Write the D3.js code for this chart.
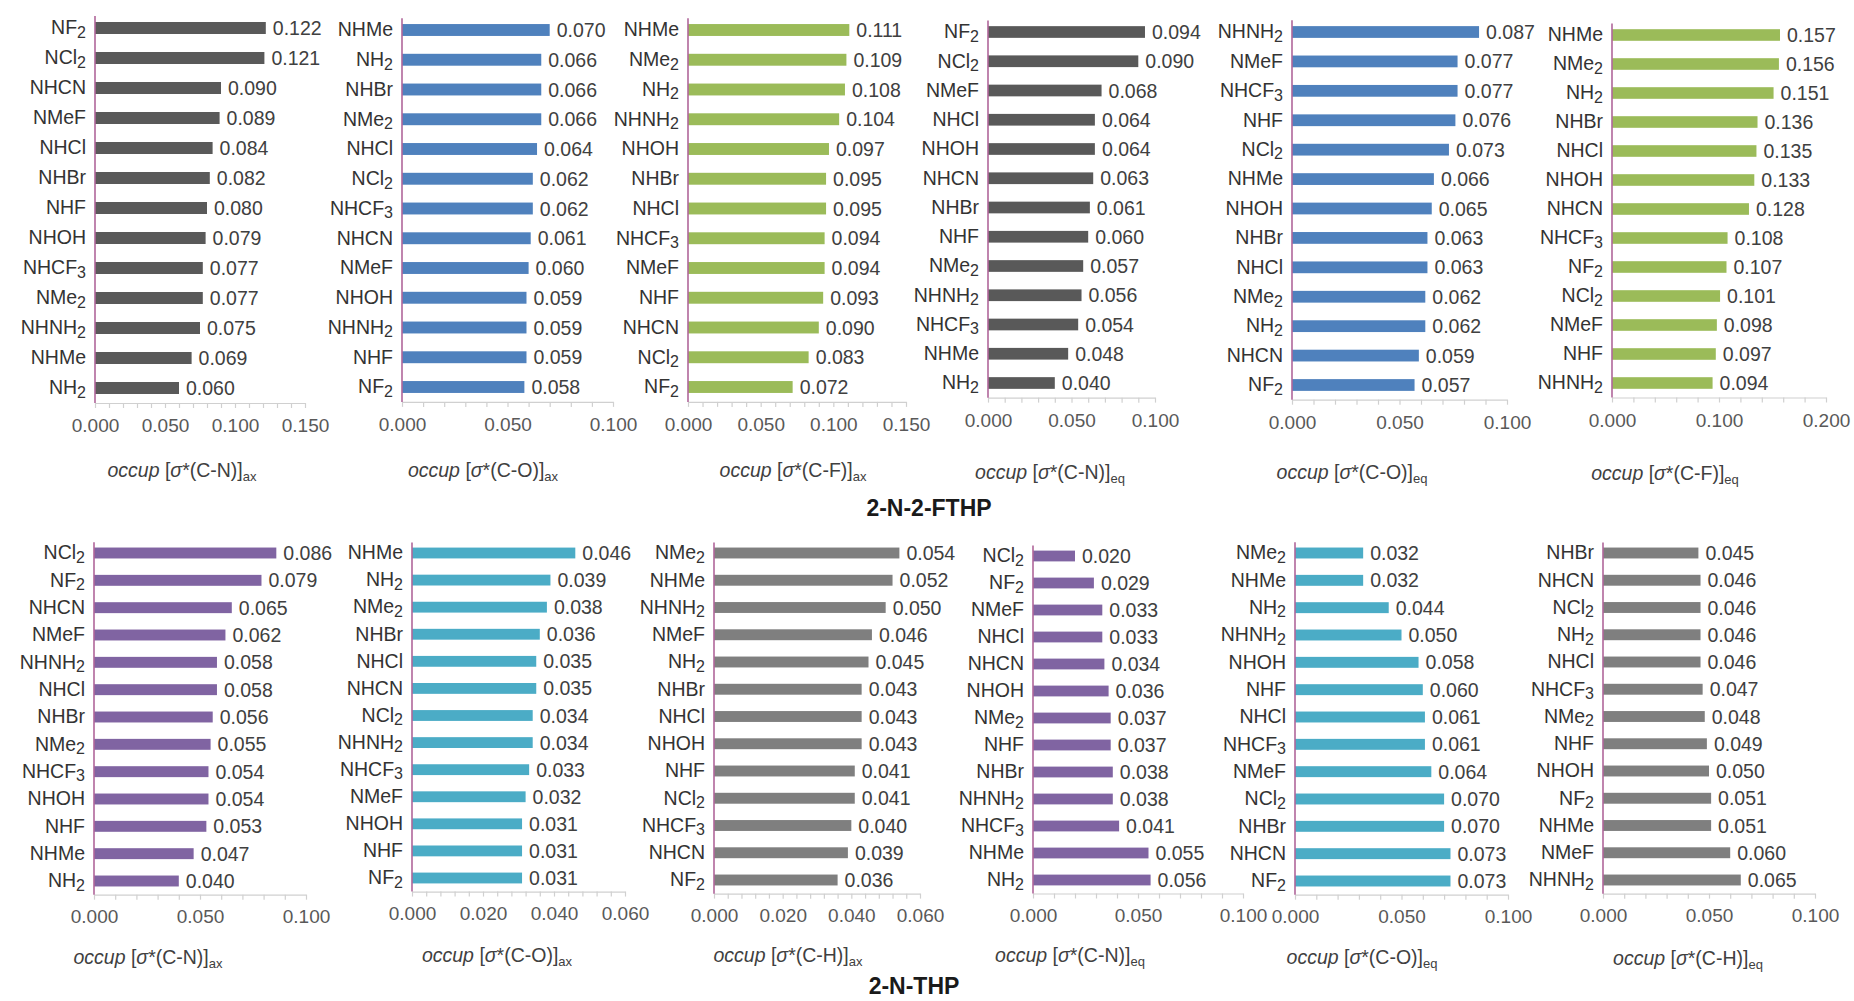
<!DOCTYPE html>
<html>
<head>
<meta charset="utf-8">
<script src="https://cdn.jsdelivr.net/npm/d3@7/dist/d3.min.js"></script>
<style>
  html, body { margin: 0; padding: 0; background: #fff; }
  svg { display: block; font-family: "Liberation Sans", Arial, sans-serif; }
</style>
</head>
<body>
<svg id="chart" width="1854" height="1001"></svg>
<script>
// ---- 2-N-2-FTHP ----
const ftAxCN_cats = ["NF2","NCl2","NHCN","NMeF","NHCl","NHBr","NHF","NHOH","NHCF3","NMe2","NHNH2","NHMe","NH2"];
const ftAxCN_vals = [0.122,0.121,0.090,0.089,0.084,0.082,0.080,0.079,0.077,0.077,0.075,0.069,0.060];

const ftAxCO_cats = ["NHMe","NH2","NHBr","NMe2","NHCl","NCl2","NHCF3","NHCN","NMeF","NHOH","NHNH2","NHF","NF2"];
const ftAxCO_vals = [0.070,0.066,0.066,0.066,0.064,0.062,0.062,0.061,0.060,0.059,0.059,0.059,0.058];

const ftAxCF_cats = ["NHMe","NMe2","NH2","NHNH2","NHOH","NHBr","NHCl","NHCF3","NMeF","NHF","NHCN","NCl2","NF2"];
const ftAxCF_vals = [0.111,0.109,0.108,0.104,0.097,0.095,0.095,0.094,0.094,0.093,0.090,0.083,0.072];

const ftEqCN_cats = ["NF2","NCl2","NMeF","NHCl","NHOH","NHCN","NHBr","NHF","NMe2","NHNH2","NHCF3","NHMe","NH2"];
const ftEqCN_vals = [0.094,0.090,0.068,0.064,0.064,0.063,0.061,0.060,0.057,0.056,0.054,0.048,0.040];

const ftEqCO_cats = ["NHNH2","NMeF","NHCF3","NHF","NCl2","NHMe","NHOH","NHBr","NHCl","NMe2","NH2","NHCN","NF2"];
const ftEqCO_vals = [0.087,0.077,0.077,0.076,0.073,0.066,0.065,0.063,0.063,0.062,0.062,0.059,0.057];

const ftEqCF_cats = ["NHMe","NMe2","NH2","NHBr","NHCl","NHOH","NHCN","NHCF3","NF2","NCl2","NMeF","NHF","NHNH2"];
const ftEqCF_vals = [0.157,0.156,0.151,0.136,0.135,0.133,0.128,0.108,0.107,0.101,0.098,0.097,0.094];

// ---- 2-N-THP ----
const thAxCN_cats = ["NCl2","NF2","NHCN","NMeF","NHNH2","NHCl","NHBr","NMe2","NHCF3","NHOH","NHF","NHMe","NH2"];
const thAxCN_vals = [0.086,0.079,0.065,0.062,0.058,0.058,0.056,0.055,0.054,0.054,0.053,0.047,0.040];

const thAxCO_cats = ["NHMe","NH2","NMe2","NHBr","NHCl","NHCN","NCl2","NHNH2","NHCF3","NMeF","NHOH","NHF","NF2"];
const thAxCO_vals = [0.046,0.039,0.038,0.036,0.035,0.035,0.034,0.034,0.033,0.032,0.031,0.031,0.031];

const thAxCH_cats = ["NMe2","NHMe","NHNH2","NMeF","NH2","NHBr","NHCl","NHOH","NHF","NCl2","NHCF3","NHCN","NF2"];
const thAxCH_vals = [0.054,0.052,0.050,0.046,0.045,0.043,0.043,0.043,0.041,0.041,0.040,0.039,0.036];

const thEqCN_cats = ["NCl2","NF2","NMeF","NHCl","NHCN","NHOH","NMe2","NHF","NHBr","NHNH2","NHCF3","NHMe","NH2"];
const thEqCN_vals = [0.020,0.029,0.033,0.033,0.034,0.036,0.037,0.037,0.038,0.038,0.041,0.055,0.056];

const thEqCO_cats = ["NMe2","NHMe","NH2","NHNH2","NHOH","NHF","NHCl","NHCF3","NMeF","NCl2","NHBr","NHCN","NF2"];
const thEqCO_vals = [0.032,0.032,0.044,0.050,0.058,0.060,0.061,0.061,0.064,0.070,0.070,0.073,0.073];

const thEqCH_cats = ["NHBr","NHCN","NCl2","NH2","NHCl","NHCF3","NMe2","NHF","NHOH","NF2","NHMe","NMeF","NHNH2"];
const thEqCH_vals = [0.045,0.046,0.046,0.046,0.046,0.047,0.048,0.049,0.050,0.051,0.051,0.060,0.065];

// Axis extents and major tick steps
const axisMax   = [0.15, 0.10, 0.15, 0.10, 0.10, 0.20, 0.10, 0.06, 0.06, 0.10, 0.10, 0.10];
const axisMajor = [0.05, 0.05, 0.05, 0.05, 0.05, 0.10, 0.05, 0.02, 0.02, 0.05, 0.05, 0.05];
const bondNames = ["C-N","C-O","C-F","C-N","C-O","C-F","C-N","C-O","C-H","C-N","C-O","C-H"];
const bondPos   = ["ax","ax","ax","eq","eq","eq","ax","ax","ax","eq","eq","eq"];
const sectionTitles = ["2-N-2-FTHP", "2-N-THP"];

const panelCats = [ftAxCN_cats, ftAxCO_cats, ftAxCF_cats, ftEqCN_cats, ftEqCO_cats, ftEqCF_cats,
                   thAxCN_cats, thAxCO_cats, thAxCH_cats, thEqCN_cats, thEqCO_cats, thEqCH_cats];
const panelVals = [ftAxCN_vals, ftAxCO_vals, ftAxCF_vals, ftEqCN_vals, ftEqCO_vals, ftEqCF_vals,
                   thAxCN_vals, thAxCO_vals, thAxCH_vals, thEqCN_vals, thEqCO_vals, thEqCH_vals];

// Bar fills
const barColors = ["#595959","#4f81bd","#9bbb59","#595959","#4f81bd","#9bbb59",
                   "#8064a2","#4bacc6","#7f7f7f","#8064a2","#4bacc6","#7f7f7f"];

// Panel geometry: x of zero, x of axis max, centre of first and last bar, axis-title centre
const layout = [
  {x0:95,   x1:305,  yTop:28,  yBot:388, tx:182,  tickDy:23, titleY:477},
  {x0:402,  x1:613,  yTop:30,  yBot:387, tx:483,  tickDy:23, titleY:477},
  {x0:688,  x1:906,  yTop:30,  yBot:387, tx:793,  tickDy:23, titleY:477},
  {x0:988,  x1:1155, yTop:32,  yBot:383, tx:1050, tickDy:23, titleY:479},
  {x0:1292, x1:1507, yTop:32,  yBot:385, tx:1352, tickDy:23, titleY:479},
  {x0:1612, x1:1826, yTop:35,  yBot:383, tx:1665, tickDy:23, titleY:480},
  {x0:94,   x1:306,  yTop:553, yBot:881, tx:148,  tickDy:22, titleY:964},
  {x0:412,  x1:625,  yTop:553, yBot:878, tx:497,  tickDy:22, titleY:962},
  {x0:714,  x1:920,  yTop:553, yBot:880, tx:788,  tickDy:22, titleY:962},
  {x0:1033, x1:1243, yTop:556, yBot:880, tx:1070, tickDy:22, titleY:962},
  {x0:1295, x1:1508, yTop:553, yBot:881, tx:1362, tickDy:22, titleY:964},
  {x0:1603, x1:1815, yTop:553, yBot:880, tx:1688, tickDy:22, titleY:965}
];
const sectionPos = [{x:929, y:516}, {x:914, y:994}];

const svg = d3.select("#chart");
const fmt = d3.format(".3f");

// Writes a formula label with its trailing digits as a subscript
function formula(textSel, label, subSize, subDy) {
  const m = label.match(/^(.*?)(\d+)$/);
  textSel.text(null);
  if (m) {
    textSel.append("tspan").text(m[1]);
    textSel.append("tspan").attr("font-size", subSize).attr("dy", subDy).text(m[2]);
  } else {
    textSel.append("tspan").text(label);
  }
}

panelCats.forEach((cats, i) => {
  const vals = panelVals[i];
  const L = layout[i];
  const n = cats.length;
  const step = (L.yBot - L.yTop) / (n - 1);
  const yRange = [L.yTop - step / 2, L.yBot + step / 2];
  const axisY = yRange[1];

  const x = d3.scaleLinear().domain([0, axisMax[i]]).range([L.x0, L.x1]);
  const y = d3.scaleBand().domain(cats).range(yRange).paddingInner(0.6).paddingOuter(0.3);

  const g = svg.append("g");

  // horizontal value axis: minor tick marks
  const minorStep = axisMajor[i] / 5;
  const minorTicks = d3.range(0, Math.round(axisMax[i] / minorStep) + 1).map(k => k * minorStep);
  const xMinor = g.append("g").attr("transform", `translate(0,${axisY})`)
    .call(d3.axisBottom(x).tickValues(minorTicks).tickSize(5).tickSizeOuter(0).tickFormat(""));
  xMinor.select(".domain").attr("stroke", "#d0d0d0").attr("stroke-width", 1.2);
  xMinor.selectAll(".tick line").attr("stroke", "#d0d0d0").attr("stroke-width", 1.2);

  // major tick labels
  const majorTicks = d3.range(0, Math.round(axisMax[i] / axisMajor[i]) + 1).map(k => k * axisMajor[i]);
  const xMajor = g.append("g").attr("transform", `translate(0,${axisY})`)
    .call(d3.axisBottom(x).tickValues(majorTicks).tickSize(0).tickPadding(L.tickDy - 7).tickFormat(fmt));
  xMajor.select(".domain").remove();
  xMajor.selectAll(".tick text")
    .attr("font-size", 19).attr("fill", "#595959")
    .attr("font-family", "'Liberation Sans', Arial, sans-serif");

  // bars
  g.selectAll("rect.bar").data(cats).enter().append("rect")
    .attr("class", "bar")
    .attr("x", x(0))
    .attr("y", d => y(d))
    .attr("width", (d, j) => x(vals[j]) - x(0))
    .attr("height", y.bandwidth())
    .attr("fill", barColors[i]);

  // value labels
  g.selectAll("text.val").data(cats).enter().append("text")
    .attr("class", "val")
    .attr("x", (d, j) => x(vals[j]) + 7)
    .attr("y", d => y(d) + y.bandwidth() / 2)
    .attr("dy", "0.36em")
    .attr("font-size", 19.5)
    .attr("fill", "#404040")
    .text((d, j) => fmt(vals[j]));

  // category axis
  const yAxis = g.append("g").attr("transform", `translate(${x(0)},0)`)
    .call(d3.axisLeft(y).tickSize(0).tickSizeOuter(0).tickPadding(9));
  yAxis.select(".domain").attr("stroke", "#b0669a").attr("stroke-width", 1.6)
    .attr("d", `M0,${yRange[0] + 3}V${axisY}`);
  yAxis.selectAll(".tick text").each(function(d) {
    const t = d3.select(this)
      .attr("font-size", 19.5).attr("fill", "#333")
      .attr("font-family", "'Liberation Sans', Arial, sans-serif");
    formula(t, d, 16, "0.22em");
  });

  // axis title: occup [σ*(bond)]pos
  const title = g.append("text")
    .attr("x", L.tx).attr("y", L.titleY)
    .attr("text-anchor", "middle")
    .attr("font-size", 19.5).attr("fill", "#404040");
  title.append("tspan").attr("font-style", "italic").text("occup");
  title.append("tspan").text(" [");
  title.append("tspan").attr("font-style", "italic").text("σ");
  title.append("tspan").text(`*(${bondNames[i]})]`);
  title.append("tspan").attr("font-size", 13).attr("dy", 4).text(bondPos[i]);
});

// section titles
svg.selectAll("text.section").data(sectionTitles).enter().append("text")
  .attr("class", "section")
  .attr("x", (d, k) => sectionPos[k].x)
  .attr("y", (d, k) => sectionPos[k].y)
  .attr("text-anchor", "middle")
  .attr("font-size", 23).attr("font-weight", "bold").attr("fill", "#1a1a1a")
  .text(d => d);
</script>
</body>
</html>
